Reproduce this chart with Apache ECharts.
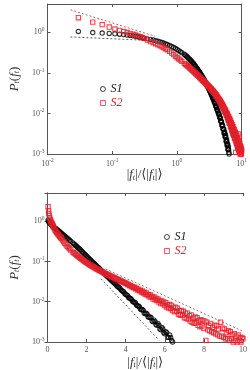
<!DOCTYPE html>
<html>
<head>
<meta charset="utf-8">
<script src="https://cdn.jsdelivr.net/npm/echarts@6/dist/echarts.min.js"></script>
<style>
  html, body { margin: 0; padding: 0; background: #fff; }
  #main { width: 250px; height: 370px; }
</style>
</head>
<body>
<div id="main"></div>
<script>
// bin centres |f_t|/<|f_t|>
var xBins = [0.03, 0.05, 0.07, 0.09, 0.11, 0.13, 0.15, 0.17, 0.19, 0.21, 0.23, 0.25, 0.27, 0.29, 0.31,
  0.35, 0.39, 0.43, 0.47, 0.51, 0.55, 0.59, 0.63, 0.67, 0.71,
  0.77, 0.83, 0.89, 0.95, 1.01, 1.07, 1.13, 1.19,
  1.30, 1.35, 1.40, 1.45, 1.50, 1.55, 1.60, 1.65, 1.70, 1.75, 1.80, 1.85, 1.90, 1.95, 2.00,
  2.05, 2.10, 2.15, 2.20, 2.25, 2.30, 2.35, 2.40, 2.45, 2.50, 2.55, 2.60, 2.65, 2.70, 2.75, 2.80, 2.85, 2.90, 2.95, 3.00,
  3.05, 3.10, 3.15, 3.20, 3.25, 3.30, 3.35, 3.40, 3.45, 3.50, 3.55, 3.60, 3.65, 3.70, 3.75, 3.80, 3.85, 3.90, 3.95, 4.00,
  4.05, 4.10, 4.15, 4.20, 4.25, 4.30, 4.35, 4.40, 4.45, 4.50, 4.55, 4.60, 4.65, 4.70, 4.75, 4.80, 4.85, 4.90, 4.95, 5.00,
  5.05, 5.10, 5.15, 5.20, 5.25, 5.30, 5.35, 5.40, 5.45, 5.50, 5.55, 5.60, 5.65, 5.70, 5.75, 5.80, 5.85, 5.90, 5.95, 6.00,
  6.05, 6.10, 6.15, 6.20, 6.25, 6.30, 6.35, 6.40, 6.45, 6.50, 6.55, 6.60, 6.65, 6.70, 6.75, 6.80, 6.85, 6.90, 6.95, 7.00,
  7.05, 7.10, 7.15, 7.20, 7.25, 7.30, 7.35, 7.40, 7.45, 7.50, 7.55, 7.60, 7.65, 7.70, 7.75, 7.80, 7.85, 7.90, 7.95, 8.00,
  8.05, 8.10, 8.15, 8.20, 8.25, 8.30, 8.35, 8.40, 8.45, 8.50, 8.55, 8.60, 8.65, 8.70, 8.75, 8.80, 8.85, 8.90, 8.95, 9.00,
  9.05, 9.10, 9.15, 9.20, 9.25, 9.30, 9.35, 9.40, 9.45, 9.50, 9.55, 9.60, 9.65, 9.70, 9.75, 9.80, 9.85, 9.90, 9.95, 10.00];

// S1 (black circles)
var pS1 = [1.05, 0.99, 0.96, 0.94, 0.92, 0.90, 0.88, 0.86, 0.84, 0.82, 0.80, 0.78, 0.76, 0.74, 0.72,
  0.692, 0.668, 0.646, 0.624, 0.603, 0.582, 0.562, 0.543, 0.519, 0.501,
  0.473, 0.447, 0.422, 0.398, 0.376, 0.355, 0.335, 0.316,
  0.288, 0.273, 0.260, 0.246, 0.234, 0.221, 0.211, 0.200, 0.191, 0.179, 0.170, 0.161, 0.151, 0.144, 0.135,
  0.128, 0.121, 0.114, 0.109, 0.103, 0.0975, 0.0920, 0.0875, 0.0825, 0.0785, 0.0740, 0.0705, 0.0665, 0.0632,
  0.0598, 0.0568, 0.0535, 0.0509, 0.0480, 0.0457,
  0.0430, 0.0410, 0.0387, 0.0368, 0.0347, 0.0330, 0.0311, 0.0296, 0.0282, 0.0268, 0.0249, 0.0236, 0.0228,
  0.0216, 0.0200, 0.0189, 0.0183, 0.0176, 0.0160, 0.0152,
  0.0148, 0.0141, 0.0128, 0.0122, 0.0120, 0.0114, 0.0103, 0.0098, 0.0097, 0.0093, 0.0083, 0.0079, 0.0079,
  0.0075, 0.0066, 0.0063, 0.0064, 0.0061, 0.0052, 0.0050,
  0.0052, 0.0049, 0.0042, 0.0041, 0.0042, 0.0040, 0.0033, 0.0032, 0.0035, 0.0032, 0.0027, 0.0026, 0.0029,
  0.0026, 0.0021, 0.0020, 0.0023, 0.0021, 0.0017, 0.0016,
  0.0018, 0.0017, 0.0013, 0.0013, 0.0015, 0.0013, 0.0011, 0.0010];

// S2 (red squares)
var pS2 = [2.3, 1.79, 1.55, 1.35, 1.21, 1.12, 1.05, 0.99, 0.94, 0.90, 0.86, 0.82, 0.78, 0.745, 0.71,
  0.645, 0.589, 0.556, 0.525, 0.495, 0.468, 0.442, 0.417, 0.394, 0.372,
  0.339, 0.309, 0.282, 0.257, 0.237, 0.221, 0.207, 0.193,
  0.172, 0.164, 0.157, 0.150, 0.143, 0.136, 0.130, 0.124, 0.119, 0.115, 0.110, 0.105, 0.101, 0.097, 0.0933,
  0.0898, 0.0867, 0.0835, 0.0807, 0.0778, 0.0753, 0.0727, 0.0705, 0.0681, 0.0661, 0.0639, 0.0621, 0.0601,
  0.0585, 0.0566, 0.0551, 0.0533, 0.0519, 0.0503, 0.0490,
  0.0478, 0.0463, 0.0455, 0.0439, 0.0430, 0.0415, 0.0408, 0.0394, 0.0386, 0.0373, 0.0366, 0.0354, 0.0348,
  0.0336, 0.0329, 0.0318, 0.0313, 0.0302, 0.0296, 0.0285,
  0.0284, 0.0265, 0.0268, 0.0249, 0.0255, 0.0236, 0.0239, 0.0221, 0.0228, 0.0209, 0.0216, 0.0194, 0.0205,
  0.0186, 0.0192, 0.0173, 0.0184, 0.0165, 0.0172, 0.0152,
  0.0166, 0.0146, 0.0152, 0.0133, 0.0149, 0.0130, 0.0136, 0.0116, 0.0131, 0.0112, 0.0123, 0.0107, 0.0117,
  0.0098, 0.0108, 0.0090, 0.0104, 0.0089, 0.0099, 0.0080,
  0.0095, 0.0074, 0.0083, 0.0070, 0.0085, 0.0068, 0.0081, 0.0060, 0.0072, 0.0056, 0.0073, 0.0058, 0.0069,
  0.0049, 0.0060, 0.0046, 0.0061, 0.0047, 0.0058, 0.0040,
  0.0052, 0.0038, 0.0052, 0.0037, 0.0045, 0.0033, 0.0047, 0.0031, 0.0039, 0.0029, 0.0042, 0.0030, 0.0040,
  0.0026, 0.0034, 0.0024, 0.0036, 0.0025, 0.0034, 0.0022,
  0.0033, 0.0011, 0.0031, 0.0020, 0.0026, 0.0019, 0.0029, 0.0018, 0.0023, 0.0017, 0.0026, 0.0016, 0.0025,
  0.0015, 0.0021, 0.0014, 0.0031, 0.0014, 0.0022, 0.0013,
  0.0021, 0.0012, 0.0017, 0.0012, 0.0019, 0.0011, 0.0018, 0.0012, 0.0015, 0.0010, 0.0016, 0.0011, 0.0014,
  0.0010, 0.0015, 0.0011, 0.0013, 0.0010, 0.0013, 0.0012];

// guide lines (end points)
var guideTopS1 = [[0.0226, 0.77], [0.32, 0.64]];
var guideTopS2 = [[0.0226, 3.6], [0.46, 0.80]];
var guideBotS1 = [[2.74, 0.037], [5.71, 0.0011]];
var guideBotS2 = [[2.97, 0.065], [9.94, 0.0019]];

var red = '#e0202a';
var axisCol = '#555';
var serif = '"Liberation Serif", "DejaVu Serif", serif';

function pairs(xs, ys) {
  var out = [];
  for (var i = 0; i < ys.length; i++) out.push([xs[i], ys[i]]);
  return out;
}

function powLabel(v) {
  var e = Math.round(Math.log10(v));
  return '{b|10}{e|' + e + '}';
}

var powRich = {
  b: { fontFamily: serif, fontSize: 8, color: axisCol },
  e: { fontFamily: serif, fontSize: 5.5, color: axisCol, verticalAlign: 'top', padding: [0, 0, 5, 0] }
};

var nameRich = {
  i: { fontFamily: serif, fontStyle: 'italic', fontSize: 13, color: '#333' },
  n: { fontFamily: serif, fontSize: 13, color: '#333' },
  s: { fontFamily: serif, fontStyle: 'italic', fontSize: 8, color: '#333', verticalAlign: 'bottom' }
};
var xName = '{n||}{i|f}{s|t}{n||/⟨|}{i|f}{s|t}{n||⟩}';
var yName = '{i|P}{s|t}{n|(}{i|f}{s|t}{n|)}';

function frameAxis(opt) {
  var base = {
    axisLine: { show: true, lineStyle: { color: axisCol, width: 1 } },
    axisTick: { show: true, inside: true, length: 3, lineStyle: { color: axisCol } },
    splitLine: { show: false },
    axisLabel: { show: false }
  };
  return Object.assign(base, opt);
}

var myChart = echarts.init(document.getElementById('main'));

var scatterS1 = {
  type: 'scatter', name: 'S1', symbol: 'circle', symbolSize: 4.3,
  itemStyle: { color: 'rgba(0,0,0,0)', borderColor: '#000', borderWidth: 1.1 },
  z: 3
};
var scatterS2 = {
  type: 'scatter', name: 'S2', symbol: 'rect', symbolSize: 4.3,
  itemStyle: { color: 'rgba(0,0,0,0)', borderColor: red, borderWidth: 1.1 },
  z: 4
};
function guide(data, col, xi, yi) {
  return {
    type: 'line', name: 'guide', data: data, xAxisIndex: xi, yAxisIndex: yi,
    symbol: 'none', silent: true, z: 5,
    lineStyle: { color: col, width: 0.8, type: [2, 2] }
  };
}

function legendAt(left, top) {
  return {
    data: [
      { name: 'S1', icon: 'circle' },
      { name: 'S2', icon: 'rect', textStyle: { color: red } }
    ],
    left: left, top: top, orient: 'vertical', padding: 0,
    itemWidth: 5, itemHeight: 5, itemGap: 2,
    selectedMode: false,
    itemStyle: { borderWidth: 0.9 },
    textStyle: { fontFamily: serif, fontStyle: 'italic', fontSize: 12, color: '#222' }
  };
}

myChart.setOption({
  animation: false,
  grid: [
    { left: 33, top: 4, width: 214, height: 150 },
    { left: 35, top: 193, width: 213, height: 149 }
  ],
  legend: [legendAt(100, 83), legendAt(164, 231)],
  xAxis: [
    frameAxis({
      type: 'log', gridIndex: 0, min: 0.01, max: 10, position: 'bottom',
      axisLabel: { show: true, formatter: powLabel, rich: powRich, margin: 4 },
      name: xName, nameLocation: 'middle', nameGap: 14, nameTextStyle: { rich: nameRich }
    }),
    frameAxis({ type: 'log', gridIndex: 0, min: 0.01, max: 10, position: 'top' }),
    frameAxis({
      type: 'value', gridIndex: 1, min: 0, max: 10, interval: 2, position: 'bottom',
      axisLabel: { show: true, fontFamily: serif, fontSize: 8, color: axisCol, margin: 4 },
      name: xName, nameLocation: 'middle', nameGap: 14, nameTextStyle: { rich: nameRich }
    }),
    frameAxis({ type: 'value', gridIndex: 1, min: 0, max: 10, interval: 2, position: 'top' })
  ],
  yAxis: [
    frameAxis({
      type: 'log', gridIndex: 0, min: 0.001, max: 5, position: 'left',
      axisLabel: { show: true, formatter: powLabel, rich: powRich, margin: 3, showMaxLabel: false },
      name: yName, nameLocation: 'middle', nameGap: 19, nameRotate: 90, nameTextStyle: { rich: nameRich }
    }),
    frameAxis({ type: 'log', gridIndex: 0, min: 0.001, max: 5, position: 'right' }),
    frameAxis({
      type: 'log', gridIndex: 1, min: 0.001, max: 5, position: 'left',
      axisLabel: { show: true, formatter: powLabel, rich: powRich, margin: 3, showMaxLabel: false },
      name: yName, nameLocation: 'middle', nameGap: 19, nameRotate: 90, nameTextStyle: { rich: nameRich }
    }),
    frameAxis({ type: 'log', gridIndex: 1, min: 0.001, max: 5, position: 'right' })
  ],
  series: [
    Object.assign({}, scatterS1, { xAxisIndex: 0, yAxisIndex: 0, data: pairs(xBins, pS1) }),
    Object.assign({}, scatterS2, { xAxisIndex: 0, yAxisIndex: 0, data: pairs(xBins, pS2) }),
    guide(guideTopS1, '#333', 0, 0),
    guide(guideTopS2, red, 0, 0),
    Object.assign({}, scatterS1, { xAxisIndex: 2, yAxisIndex: 2, data: pairs(xBins, pS1) }),
    Object.assign({}, scatterS2, { xAxisIndex: 2, yAxisIndex: 2, data: pairs(xBins, pS2) }),
    guide(guideBotS1, '#333', 2, 2),
    guide(guideBotS2, red, 2, 2)
  ]
});
</script>
</body>
</html>
